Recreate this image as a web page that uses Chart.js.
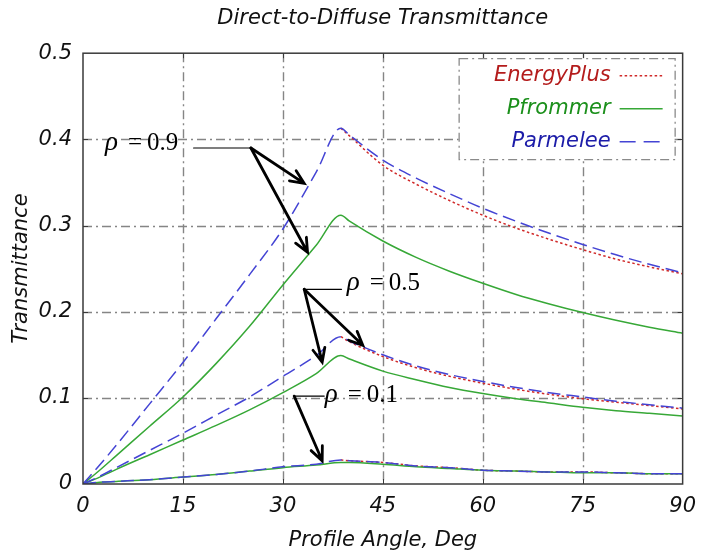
<!DOCTYPE html>
<html>
<head>
<meta charset="utf-8">
<script src="https://cdn.jsdelivr.net/npm/chart.js@4.4.1/dist/chart.umd.min.js"></script>
<style>
  html, body { margin: 0; padding: 0; background: #fff; }
  #wrap { width: 706px; height: 555px; }
</style>
</head>
<body>
<div id="wrap"><canvas id="chart" width="706" height="555"></canvas></div>
<script>
// Profile angle (deg) shared by every curve
const angles = [0, 2.5, 5, 10, 15, 20, 25, 30, 35, 38.7, 40, 45, 50, 55, 60, 65, 70, 75, 80, 85, 90];

// rho = 0.9 (EnergyPlus only shows past the peak)
const parmelee09   = [0, 0.022, 0.045, 0.093, 0.141, 0.192, 0.243, 0.296, 0.362, 0.413, 0.405, 0.376, 0.355, 0.337, 0.320, 0.305, 0.291, 0.278, 0.266, 0.255, 0.245];
const energyPlus09 = [null, null, null, null, null, null, null, null, null, 0.413, 0.404, 0.370, 0.348, 0.329, 0.312, 0.297, 0.284, 0.272, 0.261, 0.252, 0.244];
const pfrommer09   = [0, 0.016, 0.033, 0.067, 0.101, 0.140, 0.183, 0.231, 0.277, 0.312, 0.305, 0.282, 0.263, 0.247, 0.233, 0.220, 0.209, 0.199, 0.190, 0.182, 0.175];

// rho = 0.5
const parmelee05   = [0, 0.009, 0.019, 0.039, 0.059, 0.080, 0.101, 0.125, 0.149, 0.171, 0.166, 0.150, 0.137, 0.127, 0.119, 0.112, 0.106, 0.101, 0.096, 0.092, 0.088];
const energyPlus05 = [null, null, null, null, null, null, null, null, null, 0.171, 0.165, 0.148, 0.135, 0.125, 0.117, 0.110, 0.104, 0.099, 0.095, 0.091, 0.087];
const pfrommer05   = [0, 0.008, 0.017, 0.034, 0.051, 0.068, 0.086, 0.106, 0.128, 0.149, 0.145, 0.131, 0.121, 0.112, 0.105, 0.099, 0.094, 0.089, 0.085, 0.082, 0.079];

// rho = 0.1
const parmelee01   = [0, 0.002, 0.003, 0.005, 0.008, 0.011, 0.015, 0.020, 0.023, 0.028, 0.027, 0.025, 0.021, 0.019, 0.016, 0.015, 0.014, 0.014, 0.013, 0.012, 0.012];
const energyPlus01 = [null, null, null, null, null, null, null, null, null, 0.028, 0.027, 0.025, 0.021, 0.019, 0.016, 0.015, 0.014, 0.014, 0.013, 0.012, 0.012];
const pfrommer01   = [0, 0.002, 0.003, 0.005, 0.008, 0.011, 0.015, 0.019, 0.022, 0.025, 0.025, 0.023, 0.020, 0.018, 0.016, 0.015, 0.014, 0.013, 0.013, 0.012, 0.012];

const xTicks = [0, 15, 30, 45, 60, 75, 90];
const yTicks = [0, 0.1, 0.2, 0.3, 0.4, 0.5];
const legendLabels = ['EnergyPlus', 'Pfrommer', 'Parmelee'];

// callouts, in axis units (deg, transmittance)
const callouts = [
  { text: '0.9', at: [3.3, 0.388], bar: [16.6, 25.2, 0.390], from: [25.2, 0.390], tips: [[33.2, 0.349], [33.7, 0.269]] },
  { text: '0.5', at: [39.6, 0.225], bar: [33.2, 38.8, 0.226], from: [33.2, 0.226], tips: [[35.9, 0.1415], [42.0, 0.161]] },
  { text: '0.1', at: [36.3, 0.095], bar: [31.7, 36.2, 0.102], from: [31.7, 0.102], tips: [[35.9, 0.027]] }
];

const RED = '#d02a2a', GREEN = '#37a837', BLUE = '#4444d4';
const SANS = "'DejaVu Sans', sans-serif";

const pts = vals => angles.map((a, i) => ({ x: a, y: vals[i] }));

function line(ds, label, vals, kind) {
  const style = {
    ep: { borderColor: RED, borderDash: [2.5, 2.5], order: 3 },
    pf: { borderColor: GREEN, borderDash: [], order: 2 },
    pa: { borderColor: BLUE, borderDash: [13, 6], order: 1 }
  }[kind];
  ds.push(Object.assign({
    label: label,
    data: pts(vals),
    borderWidth: 1.5,
    pointRadius: 0,
    fill: false,
    spanGaps: false,
    cubicInterpolationMode: 'monotone'
  }, style));
}

const datasets = [];
line(datasets, 'EnergyPlus 0.9', energyPlus09, 'ep');
line(datasets, 'EnergyPlus 0.5', energyPlus05, 'ep');
line(datasets, 'EnergyPlus 0.1', energyPlus01, 'ep');
line(datasets, 'Pfrommer 0.9', pfrommer09, 'pf');
line(datasets, 'Pfrommer 0.5', pfrommer05, 'pf');
line(datasets, 'Pfrommer 0.1', pfrommer01, 'pf');
line(datasets, 'Parmelee 0.9', parmelee09, 'pa');
line(datasets, 'Parmelee 0.5', parmelee05, 'pa');
line(datasets, 'Parmelee 0.1', parmelee01, 'pa');

// dash-dot grid under the curves, solid box with inner ticks over them
const frameAndGrid = {
  id: 'frameAndGrid',
  beforeDatasetsDraw(chart) {
    const { ctx, chartArea: a, scales: { x, y } } = chart;
    ctx.save();
    ctx.strokeStyle = '#858585';
    ctx.lineWidth = 1.4;
    ctx.setLineDash([9, 4, 2, 4]);
    xTicks.slice(1, -1).forEach(v => {
      const px = Math.round(x.getPixelForValue(v)) + 0.5;
      ctx.beginPath(); ctx.moveTo(px, a.top); ctx.lineTo(px, a.bottom); ctx.stroke();
    });
    yTicks.slice(1, -1).forEach(v => {
      const py = Math.round(y.getPixelForValue(v)) + 0.5;
      ctx.beginPath(); ctx.moveTo(a.left, py); ctx.lineTo(a.right, py); ctx.stroke();
    });
    ctx.restore();
  },
  afterDatasetsDraw(chart) {
    const { ctx, chartArea: a, scales: { x, y } } = chart;
    ctx.save();
    ctx.strokeStyle = '#3a3a3a';
    ctx.lineWidth = 1.5;
    ctx.setLineDash([]);
    ctx.strokeRect(a.left, a.top, a.right - a.left, a.bottom - a.top);
    ctx.lineWidth = 1;
    const t = 5;
    xTicks.slice(1, -1).forEach(v => {
      const px = Math.round(x.getPixelForValue(v)) + 0.5;
      ctx.beginPath();
      ctx.moveTo(px, a.bottom); ctx.lineTo(px, a.bottom - t);
      ctx.moveTo(px, a.top); ctx.lineTo(px, a.top + t);
      ctx.stroke();
    });
    yTicks.slice(1, -1).forEach(v => {
      const py = Math.round(y.getPixelForValue(v)) + 0.5;
      ctx.beginPath();
      ctx.moveTo(a.left, py); ctx.lineTo(a.left + t, py);
      ctx.moveTo(a.right, py); ctx.lineTo(a.right - t, py);
      ctx.stroke();
    });
    ctx.restore();
  }
};

function arrow(ctx, x0, y0, x1, y1) {
  const ang = Math.atan2(y1 - y0, x1 - x0);
  const len = 15, spread = 0.42;
  ctx.beginPath();
  ctx.moveTo(x0, y0); ctx.lineTo(x1, y1);
  ctx.moveTo(x1 - len * Math.cos(ang - spread), y1 - len * Math.sin(ang - spread));
  ctx.lineTo(x1, y1);
  ctx.lineTo(x1 - len * Math.cos(ang + spread), y1 - len * Math.sin(ang + spread));
  ctx.stroke();
}

const rhoCallouts = {
  id: 'rhoCallouts',
  afterDatasetsDraw(chart) {
    const { ctx, scales: { x, y } } = chart;
    ctx.save();
    ctx.strokeStyle = '#000';
    ctx.fillStyle = '#000';
    ctx.lineCap = 'round';
    ctx.lineJoin = 'miter';
    callouts.forEach(c => {
      // thin bar next to the label
      ctx.lineWidth = 1.2;
      ctx.beginPath();
      ctx.moveTo(x.getPixelForValue(c.bar[0]), y.getPixelForValue(c.bar[2]));
      ctx.lineTo(x.getPixelForValue(c.bar[1]), y.getPixelForValue(c.bar[2]));
      ctx.stroke();
      // arrows
      ctx.lineWidth = 2.8;
      const fx = x.getPixelForValue(c.from[0]), fy = y.getPixelForValue(c.from[1]);
      c.tips.forEach(tp => arrow(ctx, fx, fy, x.getPixelForValue(tp[0]), y.getPixelForValue(tp[1])));
      // label
      const tx = x.getPixelForValue(c.at[0]), ty = y.getPixelForValue(c.at[1]);
      ctx.textBaseline = 'alphabetic';
      ctx.textAlign = 'left';
      ctx.font = "italic 27px 'Liberation Serif', serif";
      ctx.fillText('\u03c1', tx, ty);
      ctx.font = "25px 'Liberation Serif', serif";
      ctx.fillText('=', tx + 23, ty);
      ctx.fillText(c.text, tx + 42, ty);
    });
    ctx.restore();
  }
};

const boxLegend = {
  id: 'boxLegend',
  afterDatasetsDraw(chart) {
    const { ctx, chartArea: a } = chart;
    const w = 216, h = 101;
    const left = a.right - 8 - w, top = a.top + 5;
    ctx.save();
    ctx.fillStyle = '#fff';
    ctx.fillRect(left, top, w, h);
    ctx.strokeStyle = '#8a8a8a';
    ctx.lineWidth = 1.3;
    ctx.setLineDash([9, 4, 2, 4]);
    ctx.strokeRect(left + 0.5, top + 0.5, w, h);

    const rows = [
      { text: legendLabels[0], txt: '#b41c1c', col: RED, dash: [2.5, 2.5] },
      { text: legendLabels[1], txt: '#1c901c', col: GREEN, dash: [] },
      { text: legendLabels[2], txt: '#1c1ca8', col: BLUE, dash: [16, 8] }
    ];
    ctx.font = "italic 21px " + SANS;
    ctx.textAlign = 'right';
    ctx.textBaseline = 'middle';
    rows.forEach((r, i) => {
      const cy = top + 17 + i * 33;
      ctx.fillStyle = r.txt;
      ctx.fillText(r.text, left + 152, cy);
      ctx.strokeStyle = r.col;
      ctx.lineWidth = 1.6;
      ctx.setLineDash(r.dash);
      ctx.beginPath();
      ctx.moveTo(left + 161, cy + 0.5);
      ctx.lineTo(left + 204, cy + 0.5);
      ctx.stroke();
    });
    ctx.restore();
  }
};

new Chart(document.getElementById('chart'), {
  type: 'line',
  data: { datasets: datasets },
  options: {
    responsive: false,
    animation: false,
    devicePixelRatio: 1,
    layout: { padding: { left: 0, right: 16, top: 0, bottom: 0 } },
    plugins: {
      legend: { display: false },
      tooltip: { enabled: false },
      title: {
        display: true,
        fullSize: false,
        text: 'Direct-to-Diffuse Transmittance',
        color: '#111',
        font: { family: SANS, size: 21, style: 'italic', weight: 'normal' },
        padding: { top: 6, bottom: 22 }
      }
    },
    scales: {
      x: {
        type: 'linear',
        min: 0,
        max: 90,
        afterFit: s => { s.height = 71; },
        afterBuildTicks: s => { s.ticks = xTicks.map(v => ({ value: v })); },
        grid: { display: false, drawTicks: false },
        border: { display: false },
        ticks: {
          color: '#111',
          padding: 10,
          maxRotation: 0,
          font: { family: SANS, size: 21, style: 'italic' }
        },
        title: {
          display: true,
          text: 'Profile Angle, Deg',
          color: '#111',
          padding: { top: 0, bottom: 2 },
          font: { family: SANS, size: 21, style: 'italic' }
        }
      },
      y: {
        type: 'linear',
        min: 0,
        max: 0.5,
        afterFit: s => { s.width = 83; },
        afterBuildTicks: s => { s.ticks = yTicks.map(v => ({ value: v })); },
        grid: { display: false, drawTicks: false },
        border: { display: false },
        ticks: {
          color: '#111',
          padding: 11,
          font: { family: SANS, size: 21, style: 'italic' },
          callback: v => String(+v.toFixed(1))
        },
        title: {
          display: true,
          text: 'Transmittance',
          color: '#111',
          padding: { top: 9, bottom: 0 },
          font: { family: SANS, size: 21, style: 'italic' }
        }
      }
    }
  },
  plugins: [frameAndGrid, rhoCallouts, boxLegend]
});
</script>
</body>
</html>
